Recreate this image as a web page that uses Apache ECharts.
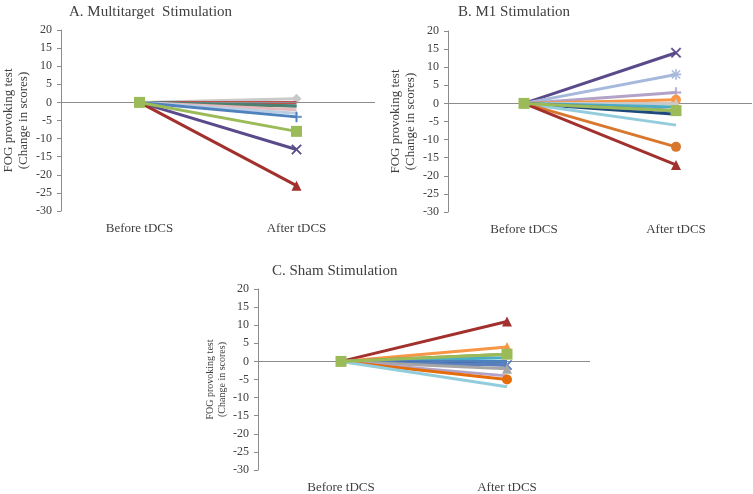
<!DOCTYPE html>
<html>
<head>
<meta charset="utf-8">
<script src="https://cdn.jsdelivr.net/npm/echarts@6/dist/echarts.min.js"></script>
<style>
html,body{margin:0;padding:0;background:#fff;}
#chart{width:753px;height:494px;}
</style>
</head>
<body>
<div id="chart"></div>
<script>
// ---------- data ----------
const categories = ['Before tDCS', 'After tDCS'];
const yTicks = [-30, -25, -20, -15, -10, -5, 0, 5, 10, 15, 20];
const titles = ['A. Multitarget  Stimulation', 'B. M1 Stimulation', 'C. Sham Stimulation'];
const yAxisTitle = 'FOG provoking test\n(Change in scores)';

// change in score before / after tDCS per subject
const multitargetBefore = [0, 0, 0, 0, 0, 0, 0, 0, 0, 0];
const multitargetAfter  = [1, 0, -1, -1, -2, -3, -4, -13, -23, -8];

const m1Before = [0, 0, 0, 0, 0, 0, 0, 0, 0, 0, 0, 0, 0];
const m1After  = [14, 8, 3, 1, 0, -1, -2, -3, -2, -6, -12, -17, -2];

const shamBefore = [0, 0, 0, 0, 0, 0, 0, 0, 0, 0, 0, 0];
const shamAfter  = [11, 4, 2, 1, 0, -1, -1, -2, -4, -5, -7, 2];

// ---------- styles ----------
const X = 'path://M1,0L5,4L9,0L10,1L6,5L10,9L9,10L5,6L1,10L0,9L4,5L0,1Z';
const PLUS = 'path://M4.3,0H5.7V4.3H10V5.7H5.7V10H4.3V5.7H0V4.3H4.3Z';
const STAR = 'path://M4.4,0H5.6V3.6L8.6,0.8L9.4,1.6L6.4,4.4H10V5.6H6.4L9.4,8.4L8.6,9.2L5.6,6.4V10H4.4V6.4L1.4,9.2L0.6,8.4L3.6,5.6H0V4.4H3.6L0.6,1.6L1.4,0.8L4.4,3.6Z';

const styleA = [
  {c:'#c9c9c9', s:'diamond'},
  {c:'#c0504d', s:'none'},
  {c:'#31859c', s:'none'},
  {c:'#4f7f6f', s:'none'},
  {c:'#e6b9b8', s:'none'},
  {c:'#b9cde5', s:'none'},
  {c:'#4f81bd', s:PLUS},
  {c:'#5b4a8b', s:X},
  {c:'#a2302d', s:'triangle'},
  {c:'#9bbb59', s:'rect', start:true}
];
const styleB = [
  {c:'#5b4a8b', s:X},
  {c:'#a6b9dc', s:STAR},
  {c:'#b3a2c7', s:PLUS},
  {c:'#f79646', s:'circle'},
  {c:'#c9c9c9', s:'triangle'},
  {c:'#4bacc6', s:'none'},
  {c:'#77933c', s:'none'},
  {c:'#1f497d', s:'none'},
  {c:'#4f81bd', s:'none'},
  {c:'#93cddd', s:'none'},
  {c:'#d9772f', s:'circle'},
  {c:'#a2302d', s:'triangle'},
  {c:'#9bbb59', s:'rect', start:true}
];
const styleC = [
  {c:'#a2302d', s:'triangle'},
  {c:'#f79646', s:'triangle'},
  {c:'#77933c', s:'none'},
  {c:'#4bacc6', s:'none'},
  {c:'#4f81bd', s:'none'},
  {c:'#1f497d', s:'none'},
  {c:'#5b7fbf', s:X},
  {c:'#a6a6a6', s:'triangle'},
  {c:'#b3a2c7', s:'none'},
  {c:'#e46c0a', s:'circle'},
  {c:'#93cddd', s:'none'},
  {c:'#9bbb59', s:'rect', start:true}
];

const FONT = 'Liberation Serif';
const TXT = '#404040';

const grids = [
  {left: 58, top: 30, width: 317, height: 181},
  {left: 448, top: 31, width: 304, height: 181},
  {left: 258, top: 289, width: 332, height: 182}
];

function xAxisFor(i) {
  return {
    type: 'category', gridIndex: i, data: categories,
    axisLine: {show: false}, axisTick: {show: false},
    axisLabel: {fontFamily: FONT, fontSize: 13, color: TXT, margin: 11},
    splitLine: {show: false}
  };
}
function yAxisFor(i, nameSize) {
  return {
    type: 'value', gridIndex: i, min: -30, max: 20, interval: 5,
    name: yAxisTitle, nameLocation: 'middle', nameGap: 30, nameRotate: 90,
    nameTextStyle: {fontFamily: FONT, fontSize: nameSize, color: TXT, lineHeight: nameSize + 2},
    axisLine: {show: true, lineStyle: {color: '#8c8c8c', width: 1}},
    axisTick: {show: true, length: 4, lineStyle: {color: '#8c8c8c'}},
    axisLabel: {fontFamily: FONT, fontSize: 12, color: TXT, margin: 9,
      formatter: v => yTicks.includes(v) ? String(v) : ''},
    splitLine: {show: false}
  };
}

function buildSeries(idx, before, after, styles) {
  const out = [];
  // zero line
  out.push({
    type: 'line', xAxisIndex: idx, yAxisIndex: idx, data: [], silent: true,
    markLine: {silent: true, symbol: 'none', label: {show: false},
      lineStyle: {color: '#8c8c8c', width: 1, type: 'solid'},
      data: [{yAxis: 0}]}
  });
  after.forEach((v, k) => {
    const st = styles[k];
    const endSym = st.s;
    const startSym = st.start ? st.s : 'none';
    const isPath = typeof endSym === 'string' && endSym.startsWith('path://');
    const size = endSym === 'rect' ? 11 : (endSym === 'triangle' ? 10 : (endSym === 'circle' ? 10 : 10));
    out.push({
      type: 'line', xAxisIndex: idx, yAxisIndex: idx,
      data: [
        {value: before[k], symbol: startSym, symbolSize: size},
        {value: v, symbol: endSym, symbolSize: size}
      ],
      lineStyle: {color: st.c, width: 3},
      itemStyle: {color: st.c, borderColor: st.c, borderWidth: isPath ? 0.5 : 0},
      showAllSymbol: true,
      animation: false,
      z: 2 + k
    });
  });
  return out;
}

const chart = echarts.init(document.getElementById('chart'), null, {renderer: 'canvas'});
chart.setOption({
  animation: false,
  backgroundColor: '#ffffff',
  title: [
    {text: titles[0], left: 64, top: 0, textStyle: {fontFamily: FONT, fontSize: 15, fontWeight: 'normal', color: TXT}},
    {text: titles[1], left: 453, top: 0, textStyle: {fontFamily: FONT, fontSize: 15, fontWeight: 'normal', color: TXT}},
    {text: titles[2], left: 267, top: 259, textStyle: {fontFamily: FONT, fontSize: 15, fontWeight: 'normal', color: TXT}}
  ],
  grid: grids,
  xAxis: [xAxisFor(0), xAxisFor(1), xAxisFor(2)],
  yAxis: [yAxisFor(0, 13), yAxisFor(1, 13), yAxisFor(2, 10)],
  series: [
    ...buildSeries(0, multitargetBefore, multitargetAfter, styleA),
    ...buildSeries(1, m1Before, m1After, styleB),
    ...buildSeries(2, shamBefore, shamAfter, styleC)
  ]
});
</script>
</body>
</html>
